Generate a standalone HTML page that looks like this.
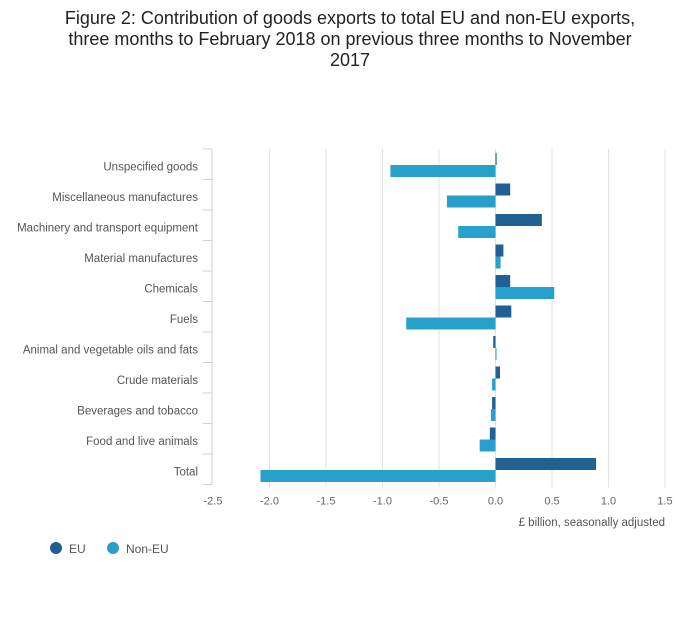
<!DOCTYPE html>
<html><head><meta charset="utf-8"><style>
body{margin:0;background:#fff;font-family:"Liberation Sans",sans-serif}
svg text{font-family:"Liberation Sans",sans-serif}
</style></head><body>
<svg id="c" width="700" height="635" xmlns="http://www.w3.org/2000/svg">
<text x="350" y="24" font-size="18" fill="#222" text-anchor="middle"><tspan x="350">Figure 2: Contribution of goods exports to total EU and non-EU exports,</tspan><tspan x="350" dy="21">three months to February 2018 on previous three months to November</tspan><tspan x="350" dy="21">2017</tspan></text>
<g id="grid"></g><g id="bars"></g><g id="axes"></g>
<text x="665" y="526" font-size="11.5" fill="#555" text-anchor="end">£ billion, seasonally adjusted</text>
<g>
<circle cx="56" cy="548" r="6" fill="#206095"/>
<text x="69" y="553" font-size="12" fill="#555">EU</text>
<circle cx="113" cy="548" r="6" fill="#27a0cc"/>
<text x="126" y="553" font-size="12" fill="#555">Non-EU</text>
</g>
</svg>
<script>
const categories=["Unspecified goods","Miscellaneous manufactures","Machinery and transport equipment","Material manufactures","Chemicals","Fuels","Animal and vegetable oils and fats","Crude materials","Beverages and tobacco","Food and live animals","Total"];
const euValues=[0.01,0.13,0.41,0.07,0.13,0.14,-0.02,0.04,-0.03,-0.05,0.89];
const nonEuValues=[-0.93,-0.43,-0.33,0.045,0.52,-0.79,0.005,-0.03,-0.04,-0.14,-2.08];
const xTicks=[-2.5,-2,-1.5,-1,-0.5,0,0.5,1,1.5];
const xTickLabels=["-2.5","-2.0","-1.5","-1.0","-0.5","0.0","0.5","1.0","1.5"];
const NS="http://www.w3.org/2000/svg";
const x0=213,x1=665,xmin=-2.5,xmax=1.5,yTop=149,band=30.5;
const xs=v=>x0+(v-xmin)/(xmax-xmin)*(x1-x0);
const yBottom=yTop+band*categories.length;
function mk(t,a,p){const e=document.createElementNS(NS,t);for(const k in a)e.setAttribute(k,a[k]);p.appendChild(e);return e;}
const grid=document.getElementById('grid'),bars=document.getElementById('bars'),axes=document.getElementById('axes');
xTicks.forEach((t,i)=>{
 if(i>0){const l=mk('line',{x1:xs(t),x2:xs(t),y1:yTop,y2:yBottom+3,stroke:'#e2e2e2','stroke-width':1},grid);
 
 }
 const tx=mk('text',{x:xs(t),y:yBottom+20,'font-size':11,fill:'#666','text-anchor':'middle'},axes);
 tx.textContent=xTickLabels[i];
 
 
});
const ax=mk('line',{x1:212,x2:212,y1:yTop,y2:yBottom,stroke:'#c5d0e3'},axes);


for(let i=0;i<=categories.length;i++){const t=mk('line',{x1:203,x2:212,y1:yTop+band*i,y2:yTop+band*i,stroke:'#c5d0e3'},axes);
 
 }
categories.forEach((c,i)=>{
 const by=yTop+band*i;
 const tx=mk('text',{x:198,y:by+band/2+6,'font-size':11.5,fill:'#555','text-anchor':'end'},axes);
 tx.textContent=c;
 
 
 [[euValues[i],'#206095',4,'bar-eu'],[nonEuValues[i],'#27a0cc',16,'bar-noneu']].forEach(([v,col,off,nm])=>{
  const a=xs(0),b=xs(v);
  const r=mk('rect',{x:Math.min(a,b),y:by+off,width:Math.max(Math.abs(b-a),1),height:12,fill:col},bars);
  
  
 });
});
</script>
</body></html>
